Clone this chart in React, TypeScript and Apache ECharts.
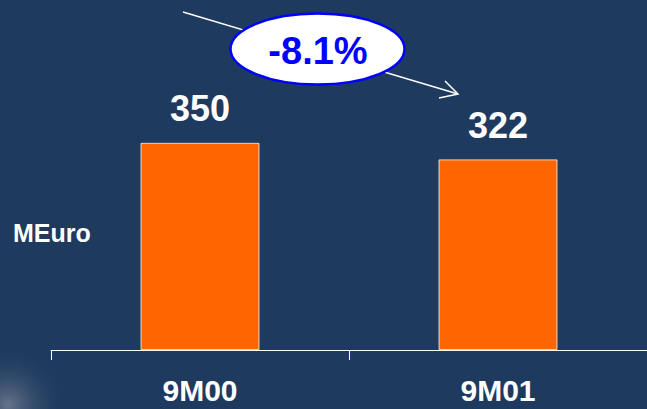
import React, { useEffect, useRef } from "react";
import * as echarts from "echarts";

const categories = ["9M00", "9M01"];
const values = [350, 322];
const unitLabel = "MEuro";
const changeLabel = "-8.1%";

export default function App() {
  const ref = useRef<HTMLDivElement>(null);
  useEffect(() => {
    document.body.style.margin = "0";
    const chart = echarts.init(ref.current!, null, { renderer: "svg" });
    const font = "'Liberation Sans', Arial, sans-serif";
    chart.setOption({
      animation: false,
      backgroundColor: "#1E3A5F",
      grid: { left: 51, right: -1, top: 54, bottom: 59 },
      xAxis: {
        type: "category",
        data: categories,
        axisLine: { lineStyle: { color: "#ffffff", width: 1 } },
        axisTick: { show: true, length: 10, lineStyle: { color: "#ffffff" } },
        axisLabel: {
          color: "#ffffff",
          fontFamily: font,
          fontWeight: "bold",
          fontSize: 30,
          lineHeight: 30,
          margin: 25,
        },
      },
      yAxis: {
        type: "value",
        min: 0,
        max: 500,
        show: false,
        splitLine: { show: false },
      },
      series: [
        {
          type: "bar",
          data: values,
          barWidth: 119,
          itemStyle: {
            color: "#FF6600",
            borderColor: "rgba(255,255,255,0.75)",
            borderWidth: 1,
          },
          label: {
            show: true,
            position: "top",
            distance: 16,
            color: "#ffffff",
            fontFamily: font,
            fontWeight: "bold",
            fontSize: 36,
          },
        },
      ],
      graphic: [
        {
          type: "circle",
          shape: { cx: 8, cy: 405, r: 60 },
          silent: true,
          style: {
            fill: new echarts.graphic.RadialGradient(0.5, 0.5, 0.5, [
              { offset: 0, color: "rgba(150,155,165,0.6)" },
              { offset: 1, color: "rgba(30,58,95,0)" },
            ]),
          },
        },
        {
          type: "polyline",
          shape: { points: [[183, 12], [458, 94]] },
          style: { stroke: "#ffffff", lineWidth: 1.5, fill: null },
        },
        {
          type: "polyline",
          shape: { points: [[445, 81], [458, 94], [439, 98]] },
          style: { stroke: "#ffffff", lineWidth: 1.5, fill: null },
        },
        {
          type: "ellipse",
          shape: { cx: 317.5, cy: 49, rx: 87, ry: 35.5 },
          style: { fill: "#ffffff", stroke: "#0000FF", lineWidth: 2.5 },
        },
        {
          type: "text",
          x: 318,
          y: 51,
          style: {
            text: changeLabel,
            fill: "#0000FF",
            font: `bold 38px ${font}`,
            align: "center",
            verticalAlign: "middle",
          },
        },
        {
          type: "text",
          x: 13,
          y: 233,
          style: {
            text: unitLabel,
            fill: "#ffffff",
            font: `bold 25px ${font}`,
            align: "left",
            verticalAlign: "middle",
          },
        },
      ],
    });
    return () => chart.dispose();
  }, []);
  return <div ref={ref} style={{ width: 647, height: 409 }} />;
}
